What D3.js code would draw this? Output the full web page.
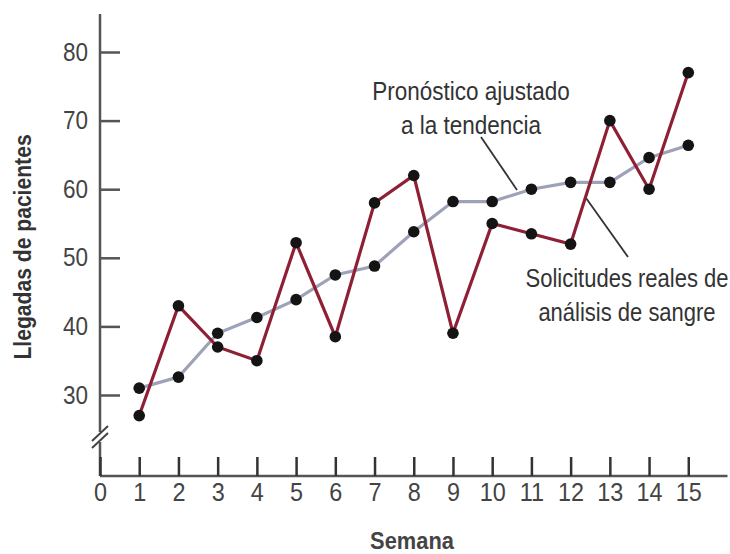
<!DOCTYPE html>
<html><head><meta charset="utf-8">
<script src="https://cdn.jsdelivr.net/npm/d3@7"></script>
<style>
body{margin:0;background:#fff;}
svg{display:block;}
text{font-family:"Liberation Sans Narrow","Arial Narrow","Liberation Sans",Arial,sans-serif;}
</style></head>
<body><svg id="c" width="730" height="554"></svg>
<script>
const weeks = [1,2,3,4,5,6,7,8,9,10,11,12,13,14,15];
const actual = [27,43,37,35,52.2,38.5,58,62,39,55,53.5,52,70,60,77];
const forecast = [31,32.6,39,41.3,43.9,47.5,48.8,53.8,58.2,58.2,60,61,61,64.6,66.4];
const xTicks = [0,1,2,3,4,5,6,7,8,9,10,11,12,13,14,15];
const yTicks = [30,40,50,60,70,80];
const xTitle = "Semana";
const yTitle = "Llegadas de pacientes";
const noteForecast = ["Pronóstico ajustado","a la tendencia"];
const noteActual = ["Solicitudes reales de","análisis de sangre"];

const svg = d3.select("#c");
const x = d3.scaleLinear().domain([0,16]).range([100,727.5]);
const y = d3.scaleLinear().domain([30,80]).range([395,52]);
const baseY = 476, topY = 14;
const axisColor = "#555";

// axes lines
svg.append("line").attr("x1",x(0)).attr("x2",x(0)).attr("y1",topY).attr("y2",baseY)
  .attr("stroke",axisColor).attr("stroke-width",2.5);
svg.append("line").attr("x1",x(0)).attr("x2",x(16)).attr("y1",baseY).attr("y2",baseY)
  .attr("stroke",axisColor).attr("stroke-width",2.5);

// y axis ticks
const ya = svg.append("g").attr("transform",`translate(${x(0)},0)`)
  .call(d3.axisLeft(y).tickValues(yTicks).tickSize(-20).tickPadding(12));
ya.select(".domain").remove();
ya.selectAll(".tick line").attr("stroke",axisColor).attr("stroke-width",2.5);
ya.selectAll(".tick text").attr("font-size",25).attr("fill","#444")
  .attr("x",-12/0.9).attr("transform","scale(0.9,1)");

// x axis ticks
const xa = svg.append("g").attr("transform",`translate(0,${baseY})`)
  .call(d3.axisBottom(x).tickValues(xTicks).tickSize(-19).tickPadding(7));
xa.select(".domain").remove();
xa.selectAll(".tick line").attr("stroke","#333").attr("stroke-width",2.5);
xa.selectAll(".tick text").attr("font-size",26).attr("fill","#444")
  .attr("transform","scale(0.9,1)");

// axis break
const br = svg.append("g").attr("stroke","#444").attr("stroke-width",2);
br.append("rect").attr("x",x(0)-3).attr("y",432).attr("width",6).attr("height",10).attr("fill","#fff").attr("stroke","none");
br.append("line").attr("x1",x(0)-8).attr("y1",441).attr("x2",x(0)+8).attr("y2",426);
br.append("line").attr("x1",x(0)-8).attr("y1",448).attr("x2",x(0)+8).attr("y2",433);

// leader lines
svg.append("line").attr("x1",481).attr("y1",137).attr("x2",517).attr("y2",190)
  .attr("stroke","#333").attr("stroke-width",1.8);
svg.append("line").attr("x1",586).attr("y1",198).attr("x2",628).attr("y2",257)
  .attr("stroke","#333").attr("stroke-width",1.8);

const line = d3.line().x((d,i)=>x(weeks[i])).y(d=>y(d));
svg.append("path").datum(forecast).attr("d",line).attr("fill","none")
  .attr("stroke","#9ea2b8").attr("stroke-width",3.2);
svg.append("path").datum(actual).attr("d",line).attr("fill","none")
  .attr("stroke","#8e1f35").attr("stroke-width",3.2);

svg.append("g").selectAll("circle").data(forecast).join("circle")
  .attr("cx",(d,i)=>x(weeks[i])).attr("cy",d=>y(d)).attr("r",5.8).attr("fill","#141414");
svg.append("g").selectAll("circle").data(actual).join("circle")
  .attr("cx",(d,i)=>x(weeks[i])).attr("cy",d=>y(d)).attr("r",5.8).attr("fill","#141414");

// annotations (condensed)
const ann = (lines, cx, y0, s) => {
  lines.forEach((t,i)=>svg.append("text")
    .attr("transform",`translate(${cx},${y0+i*34}) scale(${s},1)`)
    .attr("text-anchor","middle").attr("font-size",25).attr("fill","#333").text(t));
};
ann(noteForecast, 471, 100, 0.9);
ann(noteActual, 627, 287, 0.88);

// titles
svg.append("text").attr("transform","translate(412,549) scale(0.95,1)").attr("text-anchor","middle")
  .attr("font-size",23).attr("font-weight","bold").attr("fill","#444").text(xTitle);
svg.append("text").attr("transform","translate(31,247) rotate(-90) scale(0.88,1)").attr("text-anchor","middle")
  .attr("font-size",24).attr("font-weight","bold").attr("fill","#333").text(yTitle);
</script></body></html>
